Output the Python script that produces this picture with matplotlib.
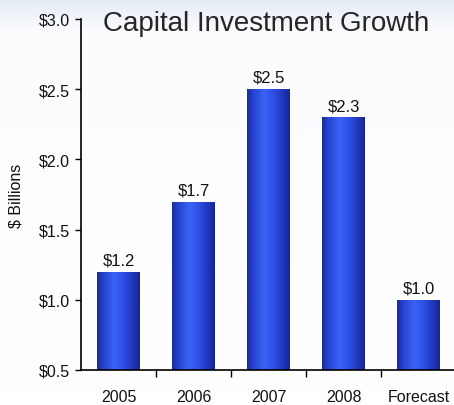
import matplotlib
matplotlib.use("Agg")
import matplotlib.pyplot as plt
import numpy as np
from matplotlib.colors import LinearSegmentedColormap

categories = ["2005", "2006", "2007", "2008", "Forecast"]
values = [1.2, 1.7, 2.5, 2.3, 1.0]
labels = ["$1.2", "$1.7", "$2.5", "$2.3", "$1.0"]
yticks = [0.5, 1.0, 1.5, 2.0, 2.5, 3.0]
yticklabels = ["$0.5", "$1.0", "$1.5", "$2.0", "$2.5", "$3.0"]

plt.rcParams['font.family'] = ['Liberation Sans', 'DejaVu Sans']

fig = plt.figure(figsize=(4.54, 4.06), dpi=100)
fig.patch.set_facecolor("white")

# subtle background gradient (faint blue at the top edge)
bg = fig.add_axes([0, 0, 1, 1], zorder=-10)
yy = np.linspace(0, 1, 200).reshape(-1, 1) * np.ones((1, 50))
g = np.clip(1 - yy / 0.08, 0, 1) * 0.8 + 0.15 * (1 - yy)
bgcmap = LinearSegmentedColormap.from_list("bg", ["#ffffff", "#e4ebf6"])
bg.imshow(g, cmap=bgcmap, aspect="auto", extent=[0, 1, 0, 1], vmin=0, vmax=1)
bg.axis("off")

ax = fig.add_axes([81/454, 1 - 371/406, 1 - 81/454, (371 - 20)/406])
ax.set_facecolor("none")
x = np.arange(len(categories))
bars = ax.bar(x, [v - 0.5 for v in values], bottom=0.5, width=0.57,
              color="none", edgecolor="none", zorder=2)

barcmap = LinearSegmentedColormap.from_list(
    "bar", [(0.0, "#1a2a9e"), (0.15, "#2644d0"), (0.4, "#3b63f6"),
            (0.6, "#2f52e8"), (0.85, "#2036b8"), (1.0, "#162590")])
grad = np.linspace(0, 1, 256).reshape(1, -1)
for b in bars:
    x0, y0 = b.get_x(), b.get_y()
    w, h = b.get_width(), b.get_height()
    im = ax.imshow(grad, cmap=barcmap, aspect="auto",
                   extent=[x0, x0 + w, y0, y0 + h], zorder=2)
    im.set_clip_path(b)

for xi, v, lab in zip(x, values, labels):
    ax.text(xi, v + 0.03, lab, ha="center", va="bottom", fontsize=12, color="#111111")

ax.set_xlim(-0.5, 4.47)
ax.set_ylim(0.5, 3.0)
ax.set_yticks(yticks)
ax.set_yticklabels(yticklabels, fontsize=11.5, color="#111111")
ax.set_xticks(x)
ax.set_xticklabels(categories, fontsize=11.5, color="#111111")
ax.tick_params(axis="x", length=0, pad=14)
ax.set_xticks(np.arange(0.5, 4.0, 1.0), minor=True)
ax.tick_params(axis="x", which="minor", length=5, direction="out", width=1)
ax.tick_params(axis="y", length=4, direction="out", width=1, pad=4)
for s in ["top", "right"]:
    ax.spines[s].set_visible(False)
ax.spines["left"].set_linewidth(1.2)
ax.spines["bottom"].set_linewidth(1.2)

ax.set_ylabel("$ Billions", fontsize=11.5, color="#111111")
ax.yaxis.set_label_coords(-(81 - 24) / 373, 0.5)
fig.text(266/454, 1 - 24/406, "Capital Investment Growth", ha="center", va="center",
         fontsize=20, color="#262626")

fig.savefig("out.png", dpi=100)
